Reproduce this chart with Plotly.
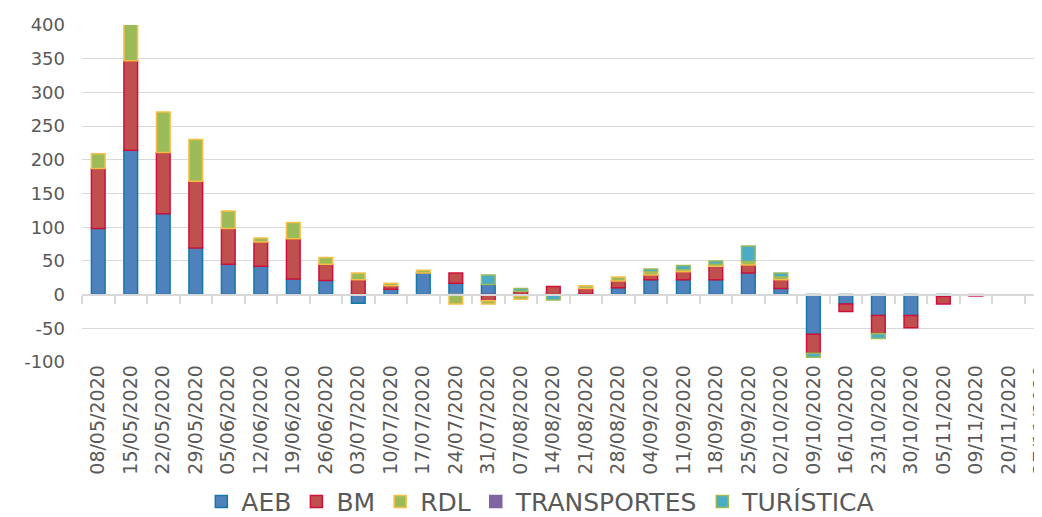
import plotly.graph_objects as go

# weekly dates (category axis)
dates = [
    "08/05/2020", "15/05/2020", "22/05/2020", "29/05/2020", "05/06/2020",
    "12/06/2020", "19/06/2020", "26/06/2020", "03/07/2020", "10/07/2020",
    "17/07/2020", "24/07/2020", "31/07/2020", "07/08/2020", "14/08/2020",
    "21/08/2020", "28/08/2020", "04/09/2020", "11/09/2020", "18/09/2020",
    "25/09/2020", "02/10/2020", "09/10/2020", "16/10/2020", "23/10/2020",
    "30/10/2020", "05/11/2020", "09/11/2020", "20/11/2020", "27/11/2020",
]

aeb = [98, 214, 120, 69, 45, 42, 23, 21, -13, 8,
       32, 17, 15, -2, 1, 1, 10, 22, 22, 22,
       32, 9, -59, -14, -31, -31, -3, 0, 0, 0]
bm = [89, 133, 91, 99, 53, 36, 60, 24, 22, 5,
      0, 15, -9, 5, 11, 8, 10, 7, 12, 20,
      12, 13, -28, -11, -27, -18, -11, -2, 0, 0]
rdl = [22, 56, 60, 62, 26, 6, 24, 10, 10, 4,
       4, -14, -5, -5, 0, 4, 6, 5, 3, 3,
       5, 4, 0, 0, 0, 0, 0, 0, 0, 0]
transportes = [0] * 30
turistica = [0, 0, 0, 0, 0, 0, 0, 0, 0, 0,
             0, 0, 14, 4, -8, 0, 0, 4, 6, 5,
             23, 6, -6, 0, -7, 0, 0, 0, 0, 0]

y_ticks = [-100, -50, 0, 50, 100, 150, 200, 250, 300, 350, 400]

series = [
    ("AEB", aeb, "#4F81BD", "#1479A8"),
    ("BM", bm, "#C0504D", "#D0103A"),
    ("RDL", rdl, "#9BBB59", "#F8BF48"),
    ("TRANSPORTES", transportes, "#8064A2", "#8064A2"),
    ("TURÍSTICA", turistica, "#4BACC6", "#9BBB59"),
]

fig = go.Figure()
for name, vals, fill, edge in series:
    fig.add_trace(go.Bar(
        x=dates,
        y=[v if v != 0 else None for v in vals],
        name=name,
        marker=dict(color=fill, line=dict(color=edge, width=1.5)),
        width=0.42,
    ))

grey = "#595959"
fig.update_layout(
    barmode="relative",
    width=1042, height=517,
    margin=dict(l=74, r=0, t=17, b=163, autoexpand=False),
    paper_bgcolor="white",
    plot_bgcolor="white",
    font=dict(family="DejaVu Sans", color=grey),
    legend=dict(
        orientation="h",
        x=0.474, xanchor="center",
        y=-0.415, yanchor="middle",
        valign="middle",
        bgcolor="rgba(0,0,0,0)",
        borderwidth=0,
        font=dict(family="DejaVu Sans", size=25, color=grey),
        itemwidth=30,
        indentation=0,
    ),
    showlegend=True,
)

# category axis crosses at 0, labels pushed below the plot
fig.update_xaxes(
    type="category",
    range=[-0.5, 29.28],
    anchor="free", position=0.2,
    automargin=False,
    showline=True, linecolor="#D9D9D9", linewidth=2,
    ticks="outside", tickson="boundaries", ticklen=8, tickwidth=2, tickcolor="#D9D9D9",
    showgrid=False,
    tickangle=-90,
    ticklabelstandoff=62,
    ticklabeloverflow="allow",
    tickfont=dict(family="DejaVu Sans", size=19, color=grey),
)
fig.update_yaxes(
    range=[-100, 400],
    tickvals=y_ticks,
    ticktext=[str(v) for v in y_ticks],
    automargin=False,
    showgrid=True, gridcolor="#D9D9D9", gridwidth=1.3,
    zeroline=False,
    showline=False,
    ticklabelstandoff=16,
    tickfont=dict(family="DejaVu Sans", size=18, color=grey),
)

fig.write_html("out.html")
